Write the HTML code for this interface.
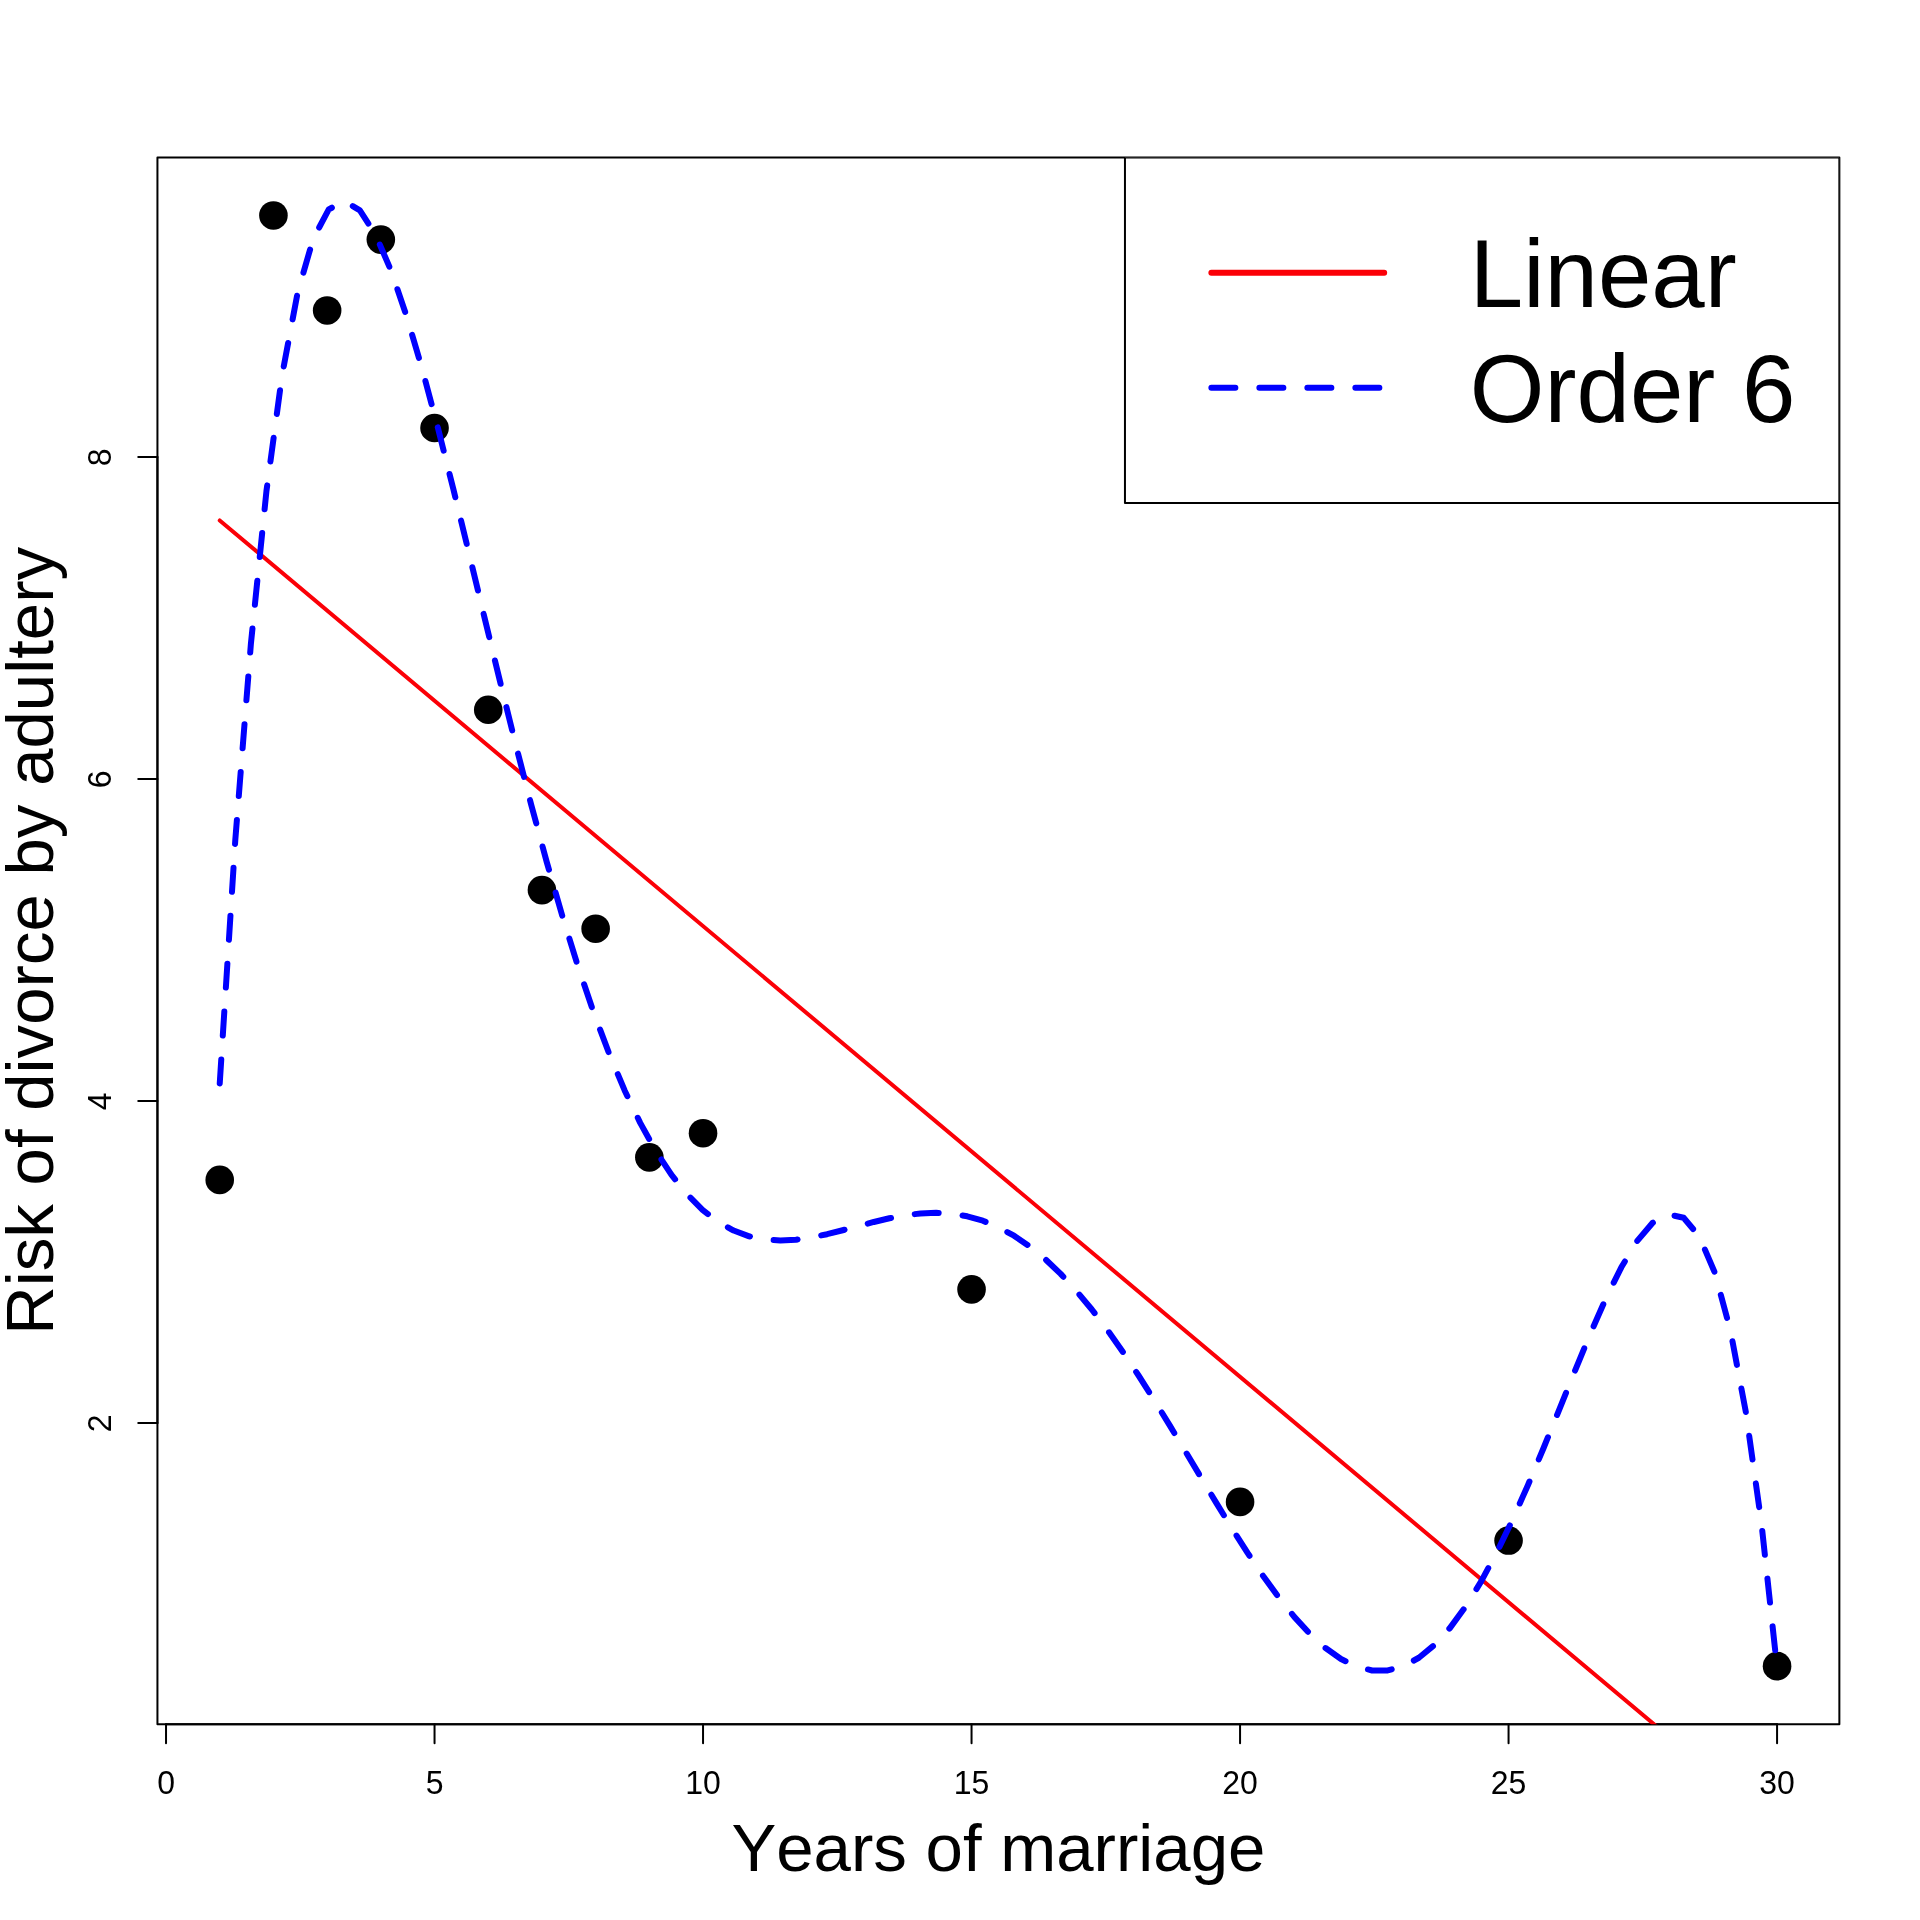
<!DOCTYPE html>
<html lang="en"><head><meta charset="utf-8"><title>Risk of divorce by adultery</title>
<style>
html,body{margin:0;padding:0;background:#fff;}
svg{display:block;will-change:transform;}
text{font-kerning:none;font-family:"Liberation Sans",Arial,Helvetica,sans-serif;fill:#000;}
</style></head><body>
<svg width="1920" height="1920" viewBox="0 0 1920 1920">
<defs><clipPath id="plotclip"><rect x="157.44" y="157.44" width="1681.92" height="1566.72"/></clipPath></defs>
<rect x="0" y="0" width="1920" height="1920" fill="#ffffff"/>
<g fill="#000">
<circle cx="219.73" cy="1179.89" r="14.3"/>
<circle cx="273.43" cy="215.47" r="14.3"/>
<circle cx="327.14" cy="310.46" r="14.3"/>
<circle cx="380.84" cy="239.62" r="14.3"/>
<circle cx="434.54" cy="427.99" r="14.3"/>
<circle cx="488.24" cy="709.76" r="14.3"/>
<circle cx="541.94" cy="890.08" r="14.3"/>
<circle cx="595.64" cy="928.72" r="14.3"/>
<circle cx="649.34" cy="1157.35" r="14.3"/>
<circle cx="703.04" cy="1133.20" r="14.3"/>
<circle cx="971.55" cy="1289.38" r="14.3"/>
<circle cx="1240.06" cy="1501.91" r="14.3"/>
<circle cx="1508.56" cy="1540.55" r="14.3"/>
<circle cx="1777.07" cy="1666.13" r="14.3"/>
</g>
<g stroke="#000" stroke-width="2" fill="none" stroke-linecap="round" stroke-linejoin="round">
<path d="M166.03,1724.16 L1777.07,1724.16"/>
<path d="M166.03,1724.16 L166.03,1743.36"/>
<path d="M434.54,1724.16 L434.54,1743.36"/>
<path d="M703.04,1724.16 L703.04,1743.36"/>
<path d="M971.55,1724.16 L971.55,1743.36"/>
<path d="M1240.06,1724.16 L1240.06,1743.36"/>
<path d="M1508.56,1724.16 L1508.56,1743.36"/>
<path d="M1777.07,1724.16 L1777.07,1743.36"/>
<path d="M157.44,1423.01 L157.44,456.98"/>
<path d="M157.44,1423.01 L138.24,1423.01"/>
<path d="M157.44,1101.00 L138.24,1101.00"/>
<path d="M157.44,778.99 L138.24,778.99"/>
<path d="M157.44,456.98 L138.24,456.98"/>
<rect x="157.44" y="157.44" width="1681.92" height="1566.72"/>
</g>
<g font-size="32" text-anchor="middle">
<text transform="translate(166.03,1794.08) scale(1,1.04)">0</text>
<text transform="translate(434.54,1794.08) scale(1,1.04)">5</text>
<text transform="translate(703.04,1794.08) scale(1,1.04)">10</text>
<text transform="translate(971.55,1794.08) scale(1,1.04)">15</text>
<text transform="translate(1240.06,1794.08) scale(1,1.04)">20</text>
<text transform="translate(1508.56,1794.08) scale(1,1.04)">25</text>
<text transform="translate(1777.07,1794.08) scale(1,1.04)">30</text>
<text transform="translate(111.36,1423.31) rotate(-90) scale(1,1.04)">2</text>
<text transform="translate(111.36,1101.30) rotate(-90) scale(1,1.04)">4</text>
<text transform="translate(111.36,779.29) rotate(-90) scale(1,1.04)">6</text>
<text transform="translate(111.36,457.28) rotate(-90) scale(1,1.04)">8</text>
</g>
<text font-size="67.2" text-anchor="middle" x="998.40" y="1871">Years of marriage</text>
<text font-size="67.2" text-anchor="middle" transform="translate(53,940.80) rotate(-90)">Risk of divorce by adultery</text>
<g clip-path="url(#plotclip)" fill="none" stroke-linecap="round" stroke-linejoin="round">
<path d="M219.73,520.44 L1777.07,1827.51" stroke="#fb0007" stroke-width="4"/>
<polyline points="219.73,1083.40 235.31,839.75 250.88,644.10 266.45,491.02 282.03,375.49 297.60,292.85 313.17,238.80 328.75,209.41 344.32,201.04 359.89,210.41 375.47,234.48 391.04,270.54 406.61,316.12 422.19,369.01 437.76,427.24 453.33,489.05 468.91,552.91 484.48,617.47 500.05,681.58 515.63,744.24 531.20,804.64 546.77,862.10 562.35,916.06 577.92,966.13 593.49,1011.99 609.07,1053.46 624.64,1090.43 640.21,1122.89 655.79,1150.90 671.36,1174.58 686.93,1194.13 702.51,1209.79 718.08,1221.82 733.65,1230.56 749.23,1236.35 764.80,1239.55 780.37,1240.54 795.95,1239.71 811.52,1237.46 827.09,1234.19 842.67,1230.26 858.24,1226.07 873.81,1221.96 889.39,1218.27 904.96,1215.33 920.53,1213.41 936.11,1212.78 951.68,1213.66 967.25,1216.26 982.83,1220.72 998.40,1227.16 1013.97,1235.68 1029.55,1246.32 1045.12,1259.07 1060.69,1273.91 1076.27,1290.76 1091.84,1309.51 1107.41,1330.02 1122.99,1352.09 1138.56,1375.50 1154.13,1400.02 1169.71,1425.36 1185.28,1451.21 1200.85,1477.24 1216.43,1503.11 1232.00,1528.44 1247.57,1552.87 1263.15,1576.01 1278.72,1597.47 1294.29,1616.86 1309.87,1633.82 1325.44,1647.99 1341.01,1659.03 1356.59,1666.62 1372.16,1670.49 1387.73,1670.41 1403.31,1666.21 1418.88,1657.74 1434.45,1644.96 1450.03,1627.89 1465.60,1606.62 1481.17,1581.37 1496.75,1552.42 1512.32,1520.20 1527.89,1485.26 1543.47,1448.26 1559.04,1410.04 1574.61,1371.58 1590.19,1334.05 1605.76,1298.77 1621.33,1267.30 1636.91,1241.37 1652.48,1222.97 1668.05,1214.29 1683.63,1217.79 1699.20,1236.21 1714.77,1272.54 1730.35,1330.09 1745.92,1412.47 1761.49,1523.62 1777.07,1667.81" stroke="#0000ff" stroke-width="6" stroke-dasharray="24 24"/>
</g>
<g clip-path="url(#plotclip)">
<rect x="1124.96" y="157.44" width="714.40" height="345.6" fill="#fff" stroke="#000" stroke-width="2" stroke-linejoin="round"/>
<path d="M1211.36,272.64 L1384.16,272.64" stroke="#fb0007" stroke-width="6" stroke-linecap="round" fill="none"/>
<path d="M1211.36,387.84 L1384.16,387.84" stroke="#0000ff" stroke-width="6" stroke-linecap="round" stroke-dasharray="24 24" fill="none"/>
<text font-size="96" x="1469.86" y="306.84">Linear</text>
<text font-size="96" x="1469.86" y="422.04">Order 6</text>
</g>
</svg></body></html>
